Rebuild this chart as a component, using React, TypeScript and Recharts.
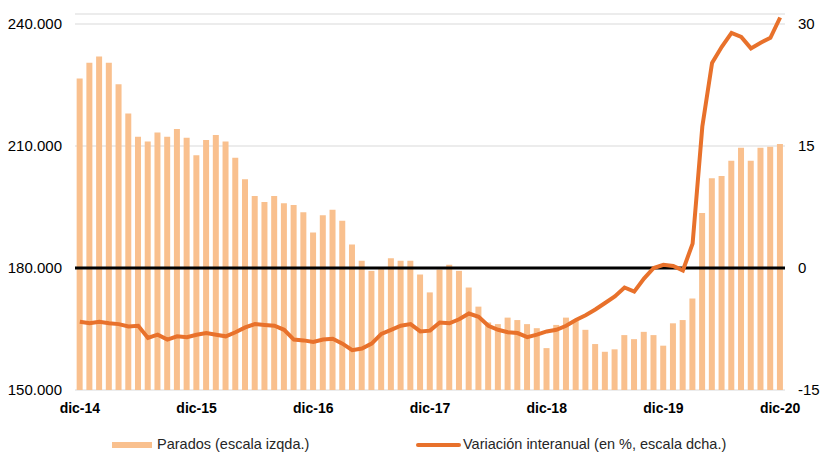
import React from 'react';
import {
  ComposedChart,
  Bar,
  Line,
  XAxis,
  YAxis,
  CartesianGrid,
  ReferenceLine,
  Legend,
} from 'recharts';

const mesesCortos = ['ene', 'feb', 'mar', 'abr', 'may', 'jun', 'jul', 'ago', 'sep', 'oct', 'nov', 'dic'];
const anios = ['15', '16', '17', '18', '19', '20'];

// miles de personas
const parados = [
  226.6, 230.5, 232.0, 230.5, 225.2, 218.0, 212.3, 211.1, 213.3, 212.3,
  214.2, 212.0, 207.7, 211.5, 212.7, 211.1, 207.1, 201.8, 197.7, 196.2,
  197.7, 195.9, 195.5, 193.7, 188.7, 193.0, 194.3, 191.6, 185.8, 181.8,
  179.3, 179.7, 182.4, 181.8, 181.8, 178.4, 174.0, 179.6, 180.8, 179.3,
  175.2, 170.5, 166.6, 166.2, 167.8, 167.2, 166.2, 165.2, 160.3, 166.0,
  167.8, 167.0, 164.8, 161.3, 159.4, 160.0, 163.5, 162.5, 164.3, 163.5,
  160.9, 166.4, 167.2, 172.5, 193.5, 202.1, 202.6, 206.4, 209.6, 206.4,
  209.6, 209.8, 210.5,
];

// variación interanual, %
const variacion = [
  -6.6, -6.8, -6.6, -6.8, -6.9, -7.2, -7.1, -8.6, -8.2, -8.8,
  -8.4, -8.5, -8.2, -8.0, -8.2, -8.4, -7.9, -7.3, -6.9, -7.0,
  -7.1, -7.6, -8.8, -8.9, -9.1, -8.8, -8.7, -9.3, -10.1, -9.9,
  -9.3, -8.1, -7.6, -7.1, -6.9, -7.8, -7.7, -6.7, -6.8, -6.3,
  -5.6, -6.0, -7.1, -7.6, -7.9, -8.0, -8.5, -8.2, -7.8, -7.6,
  -7.1, -6.4, -5.8, -5.1, -4.3, -3.5, -2.4, -2.9, -1.3, 0.0,
  0.4, 0.25, -0.3, 3.0, 17.4, 25.2, 27.2, 28.9, 28.4, 27.0,
  27.7, 28.3, 30.8,
];

const ticksIzq = [150, 180, 210, 240];
const ticksDcha = [-15, 0, 15, 30];

const meses = ['dic-14'];
anios.forEach((a) => mesesCortos.forEach((m) => meses.push(`${m}-${a}`)));

const data = meses.map((mes, i) => ({
  mes,
  parados: parados[i],
  variacion: variacion[i],
}));

const FONT = '"Liberation Sans", Arial, sans-serif';
const BAR_COLOR = '#F9C08E';
const LINE_COLOR = '#E8712B';

function LeyendaCustom() {
  return (
    <div style={{ position: 'relative', width: 821, height: 33, fontFamily: FONT, fontSize: 14.5, color: '#262626' }}>
      <div style={{ position: 'absolute', left: 112, top: 22, width: 40, height: 6, background: BAR_COLOR }} />
      <span style={{ position: 'absolute', left: 157, top: 16, lineHeight: '17px', whiteSpace: 'nowrap' }}>
        Parados (escala izqda.)
      </span>
      <div style={{ position: 'absolute', left: 416, top: 23, width: 45, height: 4, borderRadius: 2, background: LINE_COLOR }} />
      <span style={{ position: 'absolute', left: 463, top: 16, lineHeight: '17px', whiteSpace: 'nowrap' }}>
        Variación interanual (en %, escala dcha.)
      </span>
    </div>
  );
}

export default function App() {
  return (
    <div style={{ width: 821, height: 453, fontFamily: FONT }}>
      <style>{`body { margin: 0; }`}</style>
      <ComposedChart
        width={821}
        height={453}
        data={data}
        margin={{ top: 14, right: 0, bottom: 0, left: 0 }}
        barCategoryGap="17%"
      >
        <CartesianGrid yAxisId="left" vertical={false} stroke="#d9d9d9" />
        <XAxis
          dataKey="mes"
          interval={11}
          height={30}
          axisLine={false}
          tickLine={false}
          tickSize={0}
          tickMargin={13}
          tick={{ fill: '#000', fontSize: 14, fontWeight: 'bold', fontFamily: FONT }}
        />
        <YAxis
          yAxisId="left"
          width={75}
          domain={[150, 242.46]}
          ticks={ticksIzq}
          allowDataOverflow
          axisLine={false}
          tickLine={false}
          tickSize={0}
          tickMargin={13}
          tickFormatter={(v) => `${v}.000`}
          tick={{ fill: '#000', fontSize: 15, fontFamily: FONT }}
        />
        <YAxis
          yAxisId="right"
          orientation="right"
          width={36}
          domain={[-15, 31.23]}
          ticks={ticksDcha}
          allowDataOverflow
          axisLine={false}
          tickLine={false}
          tickSize={0}
          tickMargin={13}
          tick={{ fill: '#000', fontSize: 15, fontFamily: FONT, textAnchor: 'start' }}
        />
        <Bar yAxisId="left" dataKey="parados" fill={BAR_COLOR} isAnimationActive={false} />
        <ReferenceLine yAxisId="left" y={180} stroke="#000" strokeWidth={3} />
        <Line
          yAxisId="right"
          type="linear"
          dataKey="variacion"
          stroke={LINE_COLOR}
          strokeWidth={4}
          dot={false}
          isAnimationActive={false}
        />
        <Legend
          verticalAlign="bottom"
          height={33}
          wrapperStyle={{ left: 0, width: 821 }}
          content={() => <LeyendaCustom />}
        />
      </ComposedChart>
    </div>
  );
}
